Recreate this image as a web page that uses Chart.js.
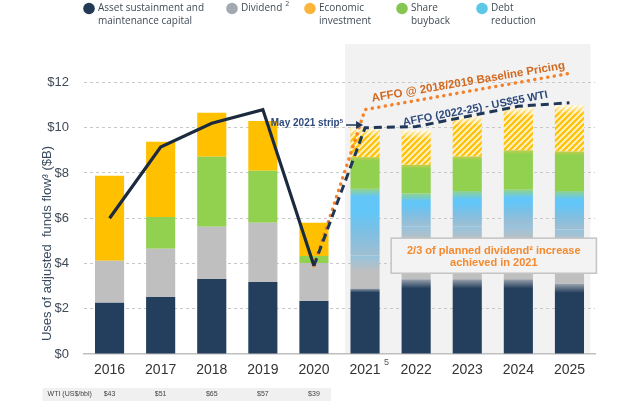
<!DOCTYPE html>
<html><head><meta charset="utf-8">
<script src="https://cdn.jsdelivr.net/npm/chart.js@4/dist/chart.umd.min.js"></script>
<style>html,body{margin:0;padding:0;background:#fff;}#wrap{width:640px;height:403px;position:relative;}</style>
</head><body><div id="wrap"><canvas id="c" width="640" height="403"></canvas></div>
<script>
const years = ['2016','2017','2018','2019','2020','2021','2022','2023','2024','2025'];
const sustainment = [2.26,2.52,3.32,3.18,2.34,2.9,3.3,3.3,3.3,3.1];
const dividend = [1.86,2.13,2.30,2.62,1.68,1.45,2.35,2.35,2.4,2.4];
const debtReduction = [0,0,0,0,0,2.95,1.45,1.55,1.56,1.7];
const shareBuyback = [0,1.41,3.10,2.30,0.31,1.4,1.26,1.53,1.74,1.75];
const economicInvestment = [3.76,3.32,1.94,2.20,1.47,1.3,1.54,1.77,1.88,2.05];
const affoActual = [6.0,9.15,10.2,10.8,3.9,null,null,null,null,null];
const affoStrip = [null,null,null,null,3.9,10.0,10.05,10.5,10.95,11.1];
const affoBaseline = [null,null,null,null,3.9,10.8,11.2,11.6,12.0,12.4];
const wtiPrices = ['$43','$51','$65','$57','$39'];
const yTicks = [0,2,4,6,8,10,12];
const forecastStart = 5;

const barArrays = [sustainment, dividend, debtReduction, shareBuyback, economicInvestment];
const C = {dark:'#243f5e', gray:'#bfbfbf', yellow:'#ffc000', green:'#92d050', blue:'#62c6f8'};

const canvas = document.getElementById('c');
const ctx = canvas.getContext('2d');

function stackRange(i, k){ let b=0; for(let j=0;j<k;j++) b+=barArrays[j][i]; return [b, b+barArrays[k][i]]; }
function fillFn(k, solid, stops){
  return c => {
    const ch=c.chart, i=c.dataIndex;
    if (i===undefined || i<forecastStart || !ch.chartArea || !ch.scales.y) return solid;
    const [b,t]=stackRange(i,k); const y=ch.scales.y;
    const y0=y.getPixelForValue(b), y1=y.getPixelForValue(t);
    const h=y0-y1; if (!(h>1)) return solid;
    const g=ch.ctx.createLinearGradient(0,y0,0,y1);
    stops(g,h,i); return g;
  };
}
const cl = v => Math.max(0, Math.min(1, v));
function hatch(){
  const p=document.createElement('canvas'); p.width=p.height=6; const x=p.getContext('2d');
  x.fillStyle='#fff0bf'; x.fillRect(0,0,6,6);
  x.strokeStyle='#ffc000'; x.lineWidth=2.2;
  x.beginPath(); x.moveTo(-1,7); x.lineTo(7,-1); x.moveTo(-1,1); x.lineTo(1,-1); x.moveTo(5,7); x.lineTo(7,5); x.stroke();
  return ctx.createPattern(p,'repeat');
}
const hatchPattern = hatch();

const barBase = {type:'bar', stack:'bars', order:1, categoryPercentage:1, barPercentage:0.57, borderWidth:0};
const datasets = [
  Object.assign({label:'Asset sustainment and maintenance capital', data:sustainment,
    backgroundColor: fillFn(0, C.dark, (g,h,i)=>{ const n=i===5?4:9; g.addColorStop(0,C.dark); g.addColorStop(cl(1-n/h),C.dark); g.addColorStop(1,'#9aa2ac'); })}, barBase),
  Object.assign({label:'Dividend', data:dividend,
    backgroundColor: fillFn(1, C.gray, (g,h,i)=>{ g.addColorStop(0,C.gray); g.addColorStop(cl(1-16/h),C.gray); g.addColorStop(1,'#95c3de'); })}, barBase),
  Object.assign({label:'Debt reduction', data:debtReduction,
    backgroundColor: fillFn(2, C.blue, (g,h,i)=>{ g.addColorStop(0,'#9fbfd2'); g.addColorStop(cl(0.35),'#7fbfe3'); g.addColorStop(cl(0.65),C.blue); g.addColorStop(cl(1-8/h),C.blue); g.addColorStop(1,'#90d38a'); })}, barBase),
  Object.assign({label:'Share buyback', data:shareBuyback,
    backgroundColor: fillFn(3, C.green, (g,h,i)=>{ g.addColorStop(0,C.green); g.addColorStop(cl(1-4/h),C.green); g.addColorStop(1,'#c2cf4a'); })}, barBase),
  Object.assign({label:'Economic investment', data:economicInvestment,
    backgroundColor: c => (c.dataIndex!==undefined && c.dataIndex>=forecastStart) ? hatchPattern : C.yellow}, barBase),
  {type:'line', label:'AFFO', data:affoActual, borderColor:'#1b2a3e', borderWidth:3.2, pointRadius:0, stack:'l1', order:0, tension:0, borderJoinStyle:'miter'},
  {type:'line', label:'AFFO strip', data:affoStrip, borderColor:'#1f3656', borderWidth:3, borderDash:[8,5], pointRadius:0, stack:'l2', order:0, tension:0},
  {type:'line', label:'AFFO baseline', data:affoBaseline, borderColor:'#f5822a', borderWidth:3.5, borderDash:[0.1,6.5], borderCapStyle:'round', pointRadius:0, stack:'l3', order:0, tension:0}
];

const legendItems = [
  {x:89, color:'#223a55', lines:['Asset sustainment and','maintenance capital']},
  {x:232, color:'#a3a9b0', lines:['Dividend'], sup:'2'},
  {x:310, color:'#fbb53a', lines:['Economic','investment']},
  {x:402, color:'#84c651', lines:['Share','buyback']},
  {x:482, color:'#5bc8e8', lines:['Debt','reduction']}
];

const deco = {
  id:'deco',
  beforeDraw(ch){
    const c=ch.ctx, xs=ch.scales.x, a=ch.chartArea;
    c.save();
    c.fillStyle='#f2f2f2';
    const l=xs.getPixelForValue(forecastStart)-20, r=xs.getPixelForValue(years.length-1)+21;
    c.fillRect(l,a.top,r-l,a.bottom-a.top);
    c.fillStyle='#f0f0f0';
    const wl=xs.getPixelForValue(0)-67, wr=xs.getPixelForValue(wtiPrices.length-1)+17;
    c.fillRect(wl,388,wr-wl,13);
    c.restore();
  },
  afterDatasetDraw(ch,args){
    if (args.index!==4) return;
    const c=ch.ctx, meta=ch.getDatasetMeta(4);
    c.save();
    meta.data.forEach((el,i)=>{
      if (i<forecastStart) return;
      const w=el.width, top=el.y;
      const g=c.createLinearGradient(0,top,0,top+9);
      g.addColorStop(0,'rgba(255,255,255,0.85)'); g.addColorStop(1,'rgba(255,255,255,0)');
      c.fillStyle=g; c.fillRect(el.x-w/2,top,w,9);
    });
    c.restore();
  },
  afterDraw(ch){
    const c=ch.ctx, xs=ch.scales.x, ys=ch.scales.y;
    const X=i=>xs.getPixelForValue(i), Y=v=>ys.getPixelForValue(v);
    c.save();
    legendItems.forEach(it=>{
      c.fillStyle=it.color; c.beginPath(); c.arc(it.x,8.5,5.8,0,Math.PI*2); c.fill();
      c.fillStyle='#404a55'; c.font='10px "Open Sans"'; c.textBaseline='middle'; c.textAlign='left';
      it.lines.forEach((t,k)=>c.fillText(t,it.x+9,8.5+k*13));
      if (it.sup){ const w=c.measureText(it.lines[0]).width; c.font='7px "Open Sans"'; c.fillText(it.sup,it.x+9+w+3,4); }
    });
    c.save(); c.translate(47,243.5); c.rotate(-Math.PI/2);
    c.fillStyle='#3a4b5e'; c.font='13px "Liberation Sans", Arial'; c.textAlign='center'; c.textBaseline='middle';
    c.fillText('Uses of adjusted  funds flow\u00b3 ($B)',0,0); c.restore();
    c.fillStyle='#555'; c.font='9px "Liberation Sans", Arial'; c.textAlign='left'; c.textBaseline='middle';
    c.fillText('5',X(5)+19,362.5);
    c.fillStyle='#444'; c.font='7px "Liberation Sans", Arial'; c.textBaseline='middle';
    c.textAlign='left'; c.fillText('WTI (US$/bbl)',X(0)-62,394.5);
    c.textAlign='center'; wtiPrices.forEach((p,i)=>c.fillText(p,X(i),394.5));
    c.fillStyle='#2e4a7d'; c.textAlign='right'; c.textBaseline='middle';
    c.font='bold 6px "Liberation Sans", Arial'; c.fillText('5',X(5)-22,121);
    const sw=c.measureText('5').width;
    c.font='bold 10px "Liberation Sans", Arial'; c.fillText('May 2021 strip',X(5)-22-sw,123);
    c.strokeStyle='#1f3656'; c.lineWidth=1.5; c.beginPath(); c.moveTo(X(5)-19,Y(10.12)); c.lineTo(X(5)-6,Y(10.12)); c.stroke();
    c.fillStyle='#1f3656'; c.beginPath(); c.moveTo(X(5)-2,Y(10.12)); c.lineTo(X(5)-9,Y(10.12)-4); c.lineTo(X(5)-9,Y(10.12)+4); c.closePath(); c.fill();
    c.save(); c.translate(X(7)+1,Y(12.02)); c.rotate(-9.7*Math.PI/180);
    c.fillStyle='#d2691e'; c.font='bold 11.5px "Liberation Sans", Arial'; c.textAlign='center'; c.textBaseline='middle';
    c.fillText('AFFO @ 2018/2019 Baseline Pricing',0,0); c.restore();
    c.save(); c.translate(X(7)+8,Y(10.84)); c.rotate(-11*Math.PI/180);
    c.fillStyle='#2e4a7d'; c.font='bold 11px "Liberation Sans", Arial'; c.textAlign='center'; c.textBaseline='middle';
    c.fillText('AFFO (2022-25) - US$55 WTI',0,0); c.restore();
    const bl=X(6)-25, br=X(9)+27, bt=Y(5.12), bb=Y(3.57);
    c.fillStyle='#f3f3f3'; c.fillRect(bl,bt,br-bl,bb-bt);
    c.strokeStyle='#c4c4c4'; c.lineWidth=1.5; c.strokeRect(bl,bt,br-bl,bb-bt);
    c.fillStyle='#f4892f'; c.font='bold 11px "Liberation Sans", Arial'; c.textAlign='center'; c.textBaseline='middle';
    const bx=(bl+br)/2;
    c.fillText('2/3 of planned dividend\u00b2 increase',bx,bt+12.5);
    c.fillText('achieved in 2021',bx,bt+24.5);
    c.restore();
  }
};

new Chart(canvas, {
  type:'bar',
  data:{labels:years, datasets},
  options:{
    responsive:false, animation:false, devicePixelRatio:1,
    layout:{padding:{top:44,right:45,bottom:19,left:0}},
    plugins:{legend:{display:false}, tooltip:{enabled:false}},
    scales:{
      x:{stacked:true, grid:{display:false, drawTicks:false}, border:{display:true,color:'#bfbfbf',width:1.5},
         ticks:{color:'#333', font:{family:'"Liberation Sans", Arial', size:14}, padding:8, maxRotation:0},
         afterFit(s){ s.height=30; }},
      y:{stacked:true, min:0, max:13.7,
         afterBuildTicks(s){ s.ticks = yTicks.map(v=>({value:v})); },
         afterFit(s){ s.width=84; },
         grid:{color:c=>c.tick && c.tick.value===0?'rgba(0,0,0,0)':'#c8c8c8', lineWidth:1, drawTicks:false},
         border:{display:false, dash:[3,3]},
         ticks:{color:'#404a58', font:{family:'"Liberation Sans", Arial', size:13}, padding:15, callback:v=>'$'+v}}
    }
  },
  plugins:[deco]
});
</script></body></html>
